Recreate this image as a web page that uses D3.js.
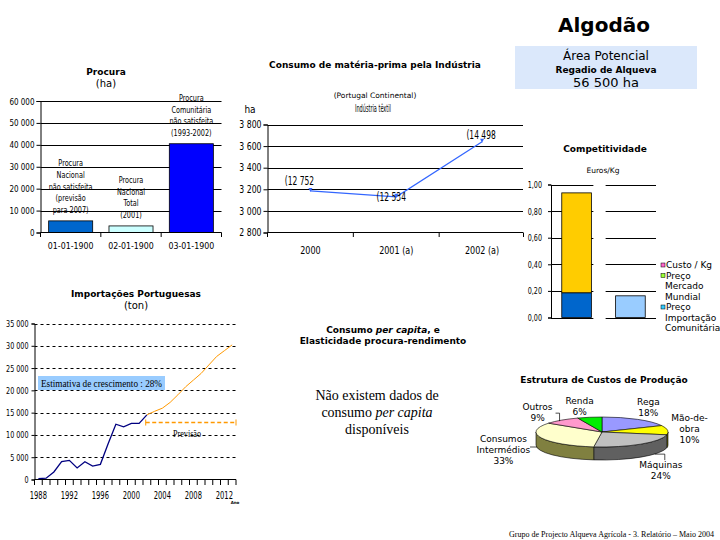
<!DOCTYPE html>
<html><head><meta charset="utf-8">
<script src="https://cdn.jsdelivr.net/npm/d3@7"></script>
<style>body{margin:0;background:#fff}svg{display:block}</style>
</head><body>
<svg id="c" width="720" height="540"></svg>
<script>
// ---------------- DATA ----------------
const procuraCategories = ["01-01-1900", "02-01-1900", "03-01-1900"];
const procuraValues = [5300, 3000, 40500];
const procuraBarLabels = [
  ["Procura", "Nacional", "não satisfeita", "(previsão", "para 2007)"],
  ["Procura", "Nacional", "Total", "(2001)"],
  ["Procura", "Comunitária", "não satisfeita", "(1993-2002)"]
];
const procuraTicks = [0, 10000, 20000, 30000, 40000, 50000, 60000];

const consumoCategories = ["2000", "2001 (a)", "2002 (a)"];
const consumoValues = [3185, 3130, 3640];
const consumoPointLabels = ["(12 752", "(12 534", "(14 498"];
const consumoTicks = [2800, 3000, 3200, 3400, 3600, 3800];

const compCategories = ["Custo", "Preço"];
const compLower = [0.186, 0.163];
const compUpper = [0.751, 0];
const compTicks = [0, 0.2, 0.4, 0.6, 0.8, 1.0];
const compLegend = [["Custo / Kg"], ["Preço", "Mercado", "Mundial"], ["Preço", "Importação", "Comunitária"]];

const importYears = [1988, 1989, 1990, 1991, 1992, 1993, 1994, 1995, 1996, 1997, 1998, 1999, 2000, 2001, 2002];
const importValues = [200, 300, 1700, 4000, 4300, 2600, 4000, 3000, 3400, 8000, 12400, 11800, 12600, 12600, 14500];
const forecastYears = [2002, 2003, 2004, 2005, 2006, 2007, 2008, 2009, 2010, 2011, 2012, 2013];
const forecastValues = [14500, 15300, 16000, 17300, 19000, 20800, 22300, 23800, 25700, 27600, 28900, 30200];
const importTickYears = [1988, 1992, 1996, 2000, 2004, 2008, 2012];
const importYTicks = [0, 5000, 10000, 15000, 20000, 25000, 30000, 35000];
const previsaoSpan = [2001.85, 2013.5];
const previsaoLevel = 12800;

const pieLabels = [["Rega", "18%"], ["Mão-de-", "obra", "10%"], ["Máquinas", "24%"], ["Consumos", "Intermédios", "33%"], ["Outros", "9%"], ["Renda", "6%"]];
const pieValues = [18, 10, 24, 33, 9, 6];

// ---------------- STYLE ----------------
const NARROW = "'Liberation Sans Narrow','DejaVu Sans Condensed',sans-serif";
const SANS = "'DejaVu Sans',Verdana,sans-serif";
const SERIF = "'Liberation Serif','Times New Roman',serif";
const svg = d3.select("#c");
const spaceFmt = d => d3.format(",")(d).replace(/,/g, " ");

function txt(x, y, s, font, anchor) {
  return svg.append("text").attr("x", x).attr("y", y)
    .attr("text-anchor", anchor || "middle").style("font", font).attr("fill", "#000").text(s);
}
function squeeze(sel, f) {
  sel.each(function () {
    const w = this.getComputedTextLength();
    if (w > 0) d3.select(this).attr("textLength", w * f).attr("lengthAdjust", "spacingAndGlyphs");
  });
  return sel;
}

// ---------------- HEADER ----------------
txt(604, 32, "Algodão", "bold 20px " + SANS);
svg.append("rect").attr("x", 515).attr("y", 46).attr("width", 182).attr("height", 43).attr("fill", "#dbe8fb");
txt(606, 60, "Área Potencial", "12px " + SANS);
txt(606, 73, "Regadio de Alqueva", "bold 9px " + SANS);
txt(606, 87, "56 500 ha", "13px " + SANS);

// ---------------- PROCURA ----------------
txt(106, 75, "Procura", "bold 9px " + SANS);
txt(106, 87, "(ha)", "10px " + SANS);
{
  const x = d3.scaleBand().domain(procuraCategories).range([40.5, 221.5]).paddingInner(0.27).paddingOuter(0.135);
  const y = d3.scaleLinear().domain([0, 60000]).range([232.5, 101]);
  const g = svg.append("g");
  g.selectAll("line.grid").data(procuraTicks.slice(1)).join("line")
    .attr("x1", 40.5).attr("x2", 221.5).attr("y1", d => Math.round(y(d)) + 0.5).attr("y2", d => Math.round(y(d)) + 0.5)
    .attr("stroke", "#000").attr("stroke-width", 1);
  const ax = g.append("g").attr("transform", "translate(40.5,0)")
    .call(d3.axisLeft(y).tickValues(procuraTicks).tickSize(4).tickPadding(2).tickFormat(spaceFmt));
  ax.select(".domain").attr("stroke", "#000");
  squeeze(ax.selectAll("text").style("font", "9.5px " + NARROW), 0.84);
  g.selectAll("rect.bar").data(procuraValues).join("rect")
    .attr("x", (d, i) => x(procuraCategories[i])).attr("width", x.bandwidth())
    .attr("y", d => y(d)).attr("height", d => y(0) - y(d))
    .attr("fill", (d, i) => ["#0066cc", "#ccffff", "#0000ff"][i]).attr("stroke", "#000").attr("stroke-width", 0.8);
  procuraBarLabels.forEach((lines, i) => {
    const cx = x(procuraCategories[i]) + x.bandwidth() / 2;
    const base = y(procuraValues[i]) - 8;
    lines.forEach((l, j) => {
      squeeze(txt(cx, base - (lines.length - 1 - j) * 11.6, l, "8.5px " + NARROW), 0.85);
    });
  });
  g.append("line").attr("x1", 40.5).attr("x2", 221.5).attr("y1", 232.5).attr("y2", 232.5).attr("stroke", "#000");
  const step = x.step();
  d3.range(4).forEach(k => {
    g.append("line").attr("x1", 40.5 + k * step).attr("x2", 40.5 + k * step).attr("y1", 232.5).attr("y2", 237).attr("stroke", "#000");
  });
  procuraCategories.forEach(c => squeeze(txt(x(c) + x.bandwidth() / 2, 249, c, "9.5px " + NARROW), 0.92));
}

// ---------------- CONSUMO (line) ----------------
txt(375, 68, "Consumo de matéria-prima pela Indústria", "bold 9px " + SANS);
txt(375, 98, "(Portugal Continental)", "7.5px " + SANS);
txt(373, 112, "Indústria têxtil", "11px " + NARROW).attr("textLength", 36).attr("lengthAdjust", "spacingAndGlyphs");
txt(250, 113, "ha", "10px " + NARROW);
{
  const x = d3.scaleBand().domain(consumoCategories).range([267.5, 525]);
  const y = d3.scaleLinear().domain([2800, 3800]).range([232.5, 124.5]);
  const g = svg.append("g");
  g.selectAll("line.grid").data(consumoTicks.slice(1)).join("line")
    .attr("x1", 267.5).attr("x2", 523).attr("y1", d => Math.round(y(d)) + 0.5).attr("y2", d => Math.round(y(d)) + 0.5)
    .attr("stroke", "#000");
  const ax = g.append("g").attr("transform", "translate(267.5,0)")
    .call(d3.axisLeft(y).tickValues(consumoTicks).tickSize(4).tickPadding(2).tickFormat(d => spaceFmt(d)));
  squeeze(ax.selectAll("text").style("font", "10px " + NARROW), 0.86);
  g.append("line").attr("x1", 267.5).attr("x2", 523).attr("y1", 232.5).attr("y2", 232.5).attr("stroke", "#000");
  d3.range(4).forEach(k => {
    const xx = Math.min(267.5 + k * x.step(), 523.5);
    g.append("line").attr("x1", xx).attr("x2", xx).attr("y1", 232.5).attr("y2", 237).attr("stroke", "#000");
  });
  consumoCategories.forEach(c => squeeze(txt(x(c) + x.bandwidth() / 2, 254, c, "10.5px " + NARROW), 0.85));
  const pts = consumoValues.map((v, i) => [x(consumoCategories[i]) + x.bandwidth() / 2, y(v)]);
  g.append("path").attr("d", d3.line()(pts)).attr("fill", "none").attr("stroke", "#3366ff").attr("stroke-width", 1.2);
  g.selectAll("path.mk").data(pts).join("path")
    .attr("d", p => `M${p[0]-2},${p[1]-3}L${p[0]+2},${p[1]-3}L${p[0]},${p[1]+1}Z`).attr("fill", "#3366ff");
  const ldx = [-11, -5, -1], ldy = [-6, 4, -3];
  consumoPointLabels.forEach((l, i) => squeeze(txt(pts[i][0] + ldx[i], pts[i][1] + ldy[i], l, "12px " + NARROW), 0.7));
}

// ---------------- COMPETITIVIDADE ----------------
txt(605, 152, "Competitividade", "bold 9px " + SANS);
txt(603, 173, "Euros/Kg", "7.5px " + SANS);
{
  const x = d3.scaleBand().domain(compCategories).range([551, 656]).paddingInner(0.45).paddingOuter(0.2);
  const y = d3.scaleLinear().domain([0, 1]).range([317.5, 184.5]);
  const g = svg.append("g");
  const gapA = x(compCategories[0]) + x.bandwidth() + 2, gapB = x(compCategories[1]) - 10;
  compTicks.forEach(t => {
    const yy = Math.round(y(t)) + 0.5;
    g.append("line").attr("x1", 551).attr("x2", gapA).attr("y1", yy).attr("y2", yy).attr("stroke", "#000");
    g.append("line").attr("x1", gapB).attr("x2", 656).attr("y1", yy).attr("y2", yy).attr("stroke", "#000");
  });
  const ax = g.append("g").attr("transform", "translate(551,0)")
    .call(d3.axisLeft(y).tickValues(compTicks).tickSize(3).tickPadding(6).tickFormat(d => d3.format(".2f")(d).replace(".", ",")));
  squeeze(ax.selectAll("text").style("font", "9.5px " + NARROW), 0.75);
  compCategories.forEach((c, i) => {
    g.append("rect").attr("x", x(c)).attr("width", x.bandwidth())
      .attr("y", y(compLower[i])).attr("height", y(0) - y(compLower[i]))
      .attr("fill", i === 0 ? "#0066cc" : "#99ccff").attr("stroke", "#000").attr("stroke-width", 0.8);
    if (compUpper[i] > 0) {
      g.append("rect").attr("x", x(c)).attr("width", x.bandwidth())
        .attr("y", y(compLower[i] + compUpper[i])).attr("height", y(compLower[i]) - y(compLower[i] + compUpper[i]))
        .attr("fill", "#ffcc00").attr("stroke", "#000").attr("stroke-width", 0.8);
    }
  });
  const legCols = ["#ff66cc", "#99ff33", "#33ccff"];
  let ly = 268;
  compLegend.forEach((lines, i) => {
    g.append("rect").attr("x", 661).attr("y", ly - 5).attr("width", 4).attr("height", 4)
      .attr("fill", legCols[i]).attr("stroke", "#000").attr("stroke-width", 0.5);
    lines.forEach((l, j) => txt(j === 0 ? 666 : 665, ly + j * 10.5, l, "9px " + SANS, "start"));
    ly += lines.length * 10.5;
  });
}

// ---------------- IMPORTAÇÕES ----------------
txt(136, 297, "Importações Portuguesas", "bold 9px " + SANS);
txt(136, 309, "(ton)", "10px " + SANS);
{
  const x = d3.scaleLinear().domain([1987.5, 2013.5]).range([34.5, 236]);
  const y = d3.scaleLinear().domain([0, 35000]).range([479.5, 323.5]);
  const g = svg.append("g");
  g.selectAll("line.grid").data(importYTicks.slice(1)).join("line")
    .attr("x1", 34.5).attr("x2", 236).attr("y1", d => Math.round(y(d)) + 0.5).attr("y2", d => Math.round(y(d)) + 0.5)
    .attr("stroke", "#000").attr("stroke-dasharray", "3,3");
  const ax = g.append("g").attr("transform", "translate(34.5,0)")
    .call(d3.axisLeft(y).tickValues(importYTicks).tickSize(3).tickPadding(3).tickFormat(spaceFmt));
  squeeze(ax.selectAll("text").style("font", "9.5px " + NARROW), 0.75);
  g.append("line").attr("x1", 34.5).attr("x2", 236).attr("y1", 479.5).attr("y2", 479.5).attr("stroke", "#000");
  d3.range(1987.5, 2014, 1).forEach(t => {
    g.append("line").attr("x1", x(t)).attr("x2", x(t)).attr("y1", 479.5).attr("y2", 485).attr("stroke", "#000");
  });
  importTickYears.forEach(t => squeeze(txt(x(t), 499, String(t), "10px " + NARROW), 0.75));
  txt(235, 504, "Ano", "bold 4px " + SANS);
  const line = d3.line().x(d => x(d[0])).y(d => y(d[1]));
  g.append("path").attr("d", line(importYears.map((yr, i) => [yr, importValues[i]])))
    .attr("fill", "none").attr("stroke", "#000080").attr("stroke-width", 1.3);
  g.append("path").attr("d", line(forecastYears.map((yr, i) => [yr, forecastValues[i]])))
    .attr("fill", "none").attr("stroke", "#ff9900").attr("stroke-width", 1);
  g.append("rect").attr("x", 38).attr("y", 376).attr("width", 127).attr("height", 14).attr("fill", "#99ccff");
  txt(41, 387, "Estimativa de crescimento : 28%", "10.5px " + SERIF, "start").attr("textLength", 121).attr("lengthAdjust", "spacingAndGlyphs");
  const py = Math.round(y(previsaoLevel)) + 0.5;
  g.append("line").attr("x1", x(previsaoSpan[0])).attr("x2", x(previsaoSpan[1])).attr("y1", py).attr("y2", py)
    .attr("stroke", "#ff9900").attr("stroke-width", 1.5).attr("stroke-dasharray", "4,2.5");
  previsaoSpan.forEach(s => {
    g.append("line").attr("x1", x(s)).attr("x2", x(s)).attr("y1", py - 3).attr("y2", py + 3).attr("stroke", "#ff9900").attr("stroke-width", 1);
  });
  txt(187, 437, "Previsão", "10.5px " + SERIF).attr("textLength", 28).attr("lengthAdjust", "spacingAndGlyphs");
}

// ---------------- CONSUMO PER CAPITA ----------------
{
  const t1 = svg.append("text").attr("x", 383).attr("y", 333).attr("text-anchor", "middle").style("font", "bold 9px " + SANS);
  t1.append("tspan").text("Consumo ");
  t1.append("tspan").style("font-style", "italic").text("per capita");
  t1.append("tspan").text(", e");
  txt(383, 344, "Elasticidade procura-rendimento", "bold 9px " + SANS);
  txt(377, 400, "Não existem dados de", "14px " + SERIF);
  const t2 = svg.append("text").attr("x", 377).attr("y", 417).attr("text-anchor", "middle").style("font", "14px " + SERIF);
  t2.append("tspan").text("consumo ");
  t2.append("tspan").style("font-style", "italic").text("per capita");
  txt(377, 434, "disponíveis", "14px " + SERIF);
}

// ---------------- PIE 3D ----------------
txt(604, 383, "Estrutura de Custos de Produção", "bold 9px " + SANS);
{
  const cx = 602, cy = 432, rx = 66, ry = 15, depth = 13;
  const topCols = ["#9999ff", "#ffff00", "#c0c0c0", "#ffffcc", "#ff99cc", "#00ee00"];
  const sideCols = ["#4d4d80", "#808000", "#606060", "#808040", "#804d66", "#007700"];
  const arcs = d3.pie().sort(null).value(d => d)(pieValues);
  const P = (a, dy) => [cx + rx * Math.sin(a), cy - ry * Math.cos(a) + (dy || 0)];
  const g = svg.append("g");
  arcs.forEach((a, i) => {
    const s = Math.max(a.startAngle, Math.PI / 2), e = Math.min(a.endAngle, 3 * Math.PI / 2);
    if (e <= s) return;
    const p1 = P(s), p2 = P(e), p3 = P(e, depth), p4 = P(s, depth);
    g.append("path").attr("d", `M${p1}A${rx},${ry} 0 0 1 ${p2}L${p3}A${rx},${ry} 0 0 0 ${p4}Z`)
      .attr("fill", sideCols[i]).attr("stroke", "#000").attr("stroke-width", 0.6);
  });
  arcs.forEach((a, i) => {
    const p1 = P(a.startAngle), p2 = P(a.endAngle);
    const large = a.endAngle - a.startAngle > Math.PI ? 1 : 0;
    g.append("path").attr("d", `M${cx},${cy}L${p1}A${rx},${ry} 0 ${large} 1 ${p2}Z`)
      .attr("fill", topCols[i]).attr("stroke", "#000").attr("stroke-width", 0.6);
  });
  const lOff = [[11, -14], [22, -9], [20, 24], [-38, 4], [-24, -10], [-10, -13]];
  const font = "9px " + SANS;
  arcs.forEach((a, i) => {
    const m = (a.startAngle + a.endAngle) / 2;
    const p = P(m);
    const lines = pieLabels[i];
    const bx = p[0] + lOff[i][0], by = p[1] + lOff[i][1];
    lines.forEach((l, j) => txt(bx, by + j * 11, l, font));
  });
  const ml = P((arcs[2].startAngle + arcs[2].endAngle) / 2, depth);
  g.append("polyline").attr("points", `${ml[0]+14},${ml[1]-3} ${ml[0]+24},${ml[1]-3} ${ml[0]+24},${ml[1]+3}`).attr("fill", "none").attr("stroke", "#000").attr("stroke-width", 0.7);
  const cl = P(3 * Math.PI / 2);
  g.append("line").attr("x1", cl[0] - 6).attr("x2", cl[0] + 1).attr("y1", cl[1] + 15).attr("y2", cl[1] + 15).attr("stroke", "#000").attr("stroke-width", 0.7);
  const ol = P((arcs[4].startAngle + arcs[4].endAngle) / 2);
  g.append("polyline").attr("points", `${ol[0]-6},${ol[1]-7} ${ol[0]-2},${ol[1]-7} ${ol[0]-2},${ol[1]+1}`).attr("fill", "none").attr("stroke", "#000").attr("stroke-width", 0.7);
}

// ---------------- FOOTER ----------------
txt(714, 537, "Grupo de Projecto Alqueva Agrícola - 3. Relatório – Maio 2004", "8px " + SERIF, "end").attr("textLength", 205).attr("lengthAdjust", "spacingAndGlyphs");
</script>
</body></html>
